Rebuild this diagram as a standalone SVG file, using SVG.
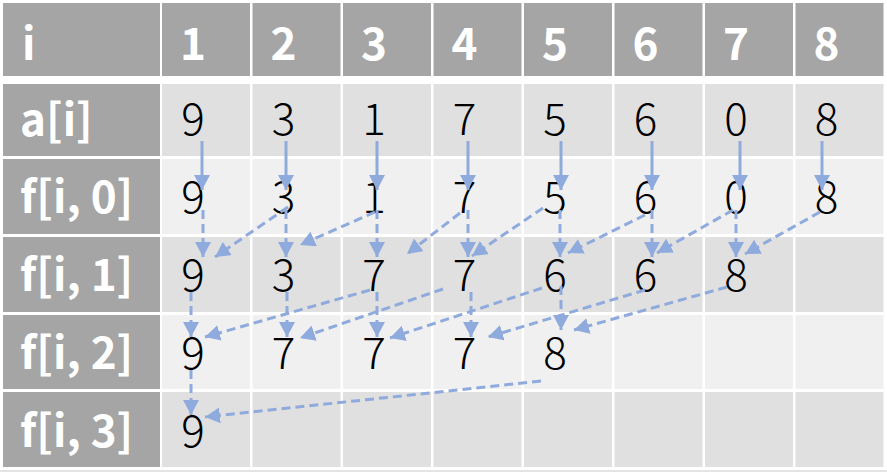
<svg xmlns="http://www.w3.org/2000/svg" width="887" height="472" viewBox="0 0 887 472">
<style>
.h{fill:#a5a5a5}
.c1{fill:#e0e0e0}
.c2{fill:#f0f0f0}
text{font-family:"Noto Sans CJK SC","Liberation Sans",sans-serif;font-size:44px}
.ht{fill:#fff;font-weight:700;text-anchor:middle}
.it{fill:#fff;font-weight:700}
.lt{fill:#fff;font-weight:700}
.bt{fill:#000;font-weight:300;text-anchor:middle}
.sa{stroke:#8faadc;stroke-width:3;fill:none;marker-end:url(#ah)}
.da{stroke:#8faadc;stroke-width:3;fill:none;stroke-dasharray:9 5;marker-end:url(#ah)}
</style>
<defs>
<marker id="ah" markerUnits="userSpaceOnUse" markerWidth="15" markerHeight="16" viewBox="0 0 15 16" refX="15" refY="8" orient="auto">
<path d="M0,0 L15,8 L0,16 z" fill="#8faadc"/>
</marker>
</defs>
<rect width="887" height="472" fill="#fff"/>
<rect x="0" y="470" width="887" height="2" fill="#e4e4e4"/>
<!-- header row -->
<g id="h0"><rect class="h" x="3" y="3" width="157" height="73"/><text class="it" x="22" y="60">i</text></g>
<g id="h1"><rect class="h" x="162" y="3" width="88" height="73"/><text class="ht" x="193" y="60">1</text></g>
<g id="h2"><rect class="h" x="252.5" y="3" width="88" height="73"/><text class="ht" x="283.5" y="60">2</text></g>
<g id="h3"><rect class="h" x="343" y="3" width="88" height="73"/><text class="ht" x="374" y="60">3</text></g>
<g id="h4"><rect class="h" x="433.5" y="3" width="88" height="73"/><text class="ht" x="464.5" y="60">4</text></g>
<g id="h5"><rect class="h" x="524" y="3" width="88" height="73"/><text class="ht" x="555" y="60">5</text></g>
<g id="h6"><rect class="h" x="614.5" y="3" width="88" height="73"/><text class="ht" x="645.5" y="60">6</text></g>
<g id="h7"><rect class="h" x="705" y="3" width="88" height="73"/><text class="ht" x="736" y="60">7</text></g>
<g id="h8"><rect class="h" x="795.5" y="3" width="88" height="73"/><text class="ht" x="826.5" y="60">8</text></g>
<!-- a[i] row -->
<g id="a0"><rect class="h" x="3" y="84" width="157" height="72"/><text class="lt" x="20" y="136">a[i]</text></g>
<g id="a1"><rect class="c1" x="162" y="84" width="88" height="72"/><text class="bt" x="193" y="135">9</text></g>
<g id="a2"><rect class="c1" x="252.5" y="84" width="88" height="72"/><text class="bt" x="283.5" y="135">3</text></g>
<g id="a3"><rect class="c1" x="343" y="84" width="88" height="72"/><text class="bt" x="374" y="135">1</text></g>
<g id="a4"><rect class="c1" x="433.5" y="84" width="88" height="72"/><text class="bt" x="464.5" y="135">7</text></g>
<g id="a5"><rect class="c1" x="524" y="84" width="88" height="72"/><text class="bt" x="555" y="135">5</text></g>
<g id="a6"><rect class="c1" x="614.5" y="84" width="88" height="72"/><text class="bt" x="645.5" y="135">6</text></g>
<g id="a7"><rect class="c1" x="705" y="84" width="88" height="72"/><text class="bt" x="736" y="135">0</text></g>
<g id="a8"><rect class="c1" x="795.5" y="84" width="88" height="72"/><text class="bt" x="826.5" y="135">8</text></g>
<!-- f[i,0] row -->
<g id="f0_0"><rect class="h" x="3" y="159" width="157" height="75"/><text class="lt" x="20" y="213">f[i, 0]</text></g>
<g id="f0_1"><rect class="c2" x="162" y="159" width="88" height="75"/><text class="bt" x="193" y="213">9</text></g>
<g id="f0_2"><rect class="c2" x="252.5" y="159" width="88" height="75"/><text class="bt" x="283.5" y="213">3</text></g>
<g id="f0_3"><rect class="c2" x="343" y="159" width="88" height="75"/><text class="bt" x="374" y="213">1</text></g>
<g id="f0_4"><rect class="c2" x="433.5" y="159" width="88" height="75"/><text class="bt" x="464.5" y="213">7</text></g>
<g id="f0_5"><rect class="c2" x="524" y="159" width="88" height="75"/><text class="bt" x="555" y="213">5</text></g>
<g id="f0_6"><rect class="c2" x="614.5" y="159" width="88" height="75"/><text class="bt" x="645.5" y="213">6</text></g>
<g id="f0_7"><rect class="c2" x="705" y="159" width="88" height="75"/><text class="bt" x="736" y="213">0</text></g>
<g id="f0_8"><rect class="c2" x="795.5" y="159" width="88" height="75"/><text class="bt" x="826.5" y="213">8</text></g>
<!-- f[i,1] row -->
<g id="f1_0"><rect class="h" x="3" y="237" width="157" height="75"/><text class="lt" x="20" y="291">f[i, 1]</text></g>
<g id="f1_1"><rect class="c1" x="162" y="237" width="88" height="75"/><text class="bt" x="193" y="291">9</text></g>
<g id="f1_2"><rect class="c1" x="252.5" y="237" width="88" height="75"/><text class="bt" x="283.5" y="291">3</text></g>
<g id="f1_3"><rect class="c1" x="343" y="237" width="88" height="75"/><text class="bt" x="374" y="291">7</text></g>
<g id="f1_4"><rect class="c1" x="433.5" y="237" width="88" height="75"/><text class="bt" x="464.5" y="291">7</text></g>
<g id="f1_5"><rect class="c1" x="524" y="237" width="88" height="75"/><text class="bt" x="555" y="291">6</text></g>
<g id="f1_6"><rect class="c1" x="614.5" y="237" width="88" height="75"/><text class="bt" x="645.5" y="291">6</text></g>
<g id="f1_7"><rect class="c1" x="705" y="237" width="88" height="75"/><text class="bt" x="736" y="291">8</text></g>
<g id="f1_8"><rect class="c1" x="795.5" y="237" width="88" height="75"/></g>
<!-- f[i,2] row -->
<g id="f2_0"><rect class="h" x="3" y="315" width="157" height="74"/><text class="lt" x="20" y="369">f[i, 2]</text></g>
<g id="f2_1"><rect class="c2" x="162" y="315" width="88" height="74"/><text class="bt" x="193" y="369">9</text></g>
<g id="f2_2"><rect class="c2" x="252.5" y="315" width="88" height="74"/><text class="bt" x="283.5" y="369">7</text></g>
<g id="f2_3"><rect class="c2" x="343" y="315" width="88" height="74"/><text class="bt" x="374" y="369">7</text></g>
<g id="f2_4"><rect class="c2" x="433.5" y="315" width="88" height="74"/><text class="bt" x="464.5" y="369">7</text></g>
<g id="f2_5"><rect class="c2" x="524" y="315" width="88" height="74"/><text class="bt" x="555" y="369">8</text></g>
<g id="f2_6"><rect class="c2" x="614.5" y="315" width="88" height="74"/></g>
<g id="f2_7"><rect class="c2" x="705" y="315" width="88" height="74"/></g>
<g id="f2_8"><rect class="c2" x="795.5" y="315" width="88" height="74"/></g>
<!-- f[i,3] row -->
<g id="f3_0"><rect class="h" x="3" y="392" width="157" height="75"/><text class="lt" x="20" y="447">f[i, 3]</text></g>
<g id="f3_1"><rect class="c1" x="162" y="392" width="88" height="75"/><text class="bt" x="193" y="447">9</text></g>
<g id="f3_2"><rect class="c1" x="252.5" y="392" width="88" height="75"/></g>
<g id="f3_3"><rect class="c1" x="343" y="392" width="88" height="75"/></g>
<g id="f3_4"><rect class="c1" x="433.5" y="392" width="88" height="75"/></g>
<g id="f3_5"><rect class="c1" x="524" y="392" width="88" height="75"/></g>
<g id="f3_6"><rect class="c1" x="614.5" y="392" width="88" height="75"/></g>
<g id="f3_7"><rect class="c1" x="705" y="392" width="88" height="75"/></g>
<g id="f3_8"><rect class="c1" x="795.5" y="392" width="88" height="75"/></g>
<!-- connectors -->
<g id="connectors">
<line class="sa" x1="202" y1="141" x2="202" y2="190"/>
<line class="sa" x1="286" y1="141" x2="286" y2="190"/>
<line class="sa" x1="377" y1="141" x2="377" y2="190"/>
<line class="sa" x1="468" y1="141" x2="468" y2="190"/>
<line class="sa" x1="561" y1="141" x2="561" y2="190"/>
<line class="sa" x1="652" y1="141" x2="652" y2="190"/>
<line class="sa" x1="740" y1="141" x2="740" y2="190"/>
<line class="sa" x1="822" y1="141" x2="822" y2="190"/>
<line class="da" x1="203" y1="210" x2="203" y2="257"/>
<line class="da" x1="286" y1="210" x2="286" y2="257"/>
<line class="da" x1="377" y1="210" x2="377" y2="257"/>
<line class="da" x1="468" y1="210" x2="468" y2="257"/>
<line class="da" x1="560" y1="210" x2="560" y2="257"/>
<line class="da" x1="652" y1="210" x2="652" y2="257"/>
<line class="da" x1="736" y1="210" x2="736" y2="257"/>
<line class="da" x1="288" y1="207" x2="215" y2="257"/>
<line class="da" x1="375" y1="212" x2="300" y2="245"/>
<line class="da" x1="460" y1="213" x2="407" y2="254"/>
<line class="da" x1="543" y1="208" x2="472" y2="256"/>
<line class="da" x1="645" y1="215" x2="568" y2="253"/>
<line class="da" x1="733" y1="210" x2="657" y2="253"/>
<line class="da" x1="820" y1="212" x2="745" y2="254"/>
<line class="da" x1="191" y1="292" x2="191" y2="337"/>
<line class="da" x1="287" y1="292" x2="287" y2="337"/>
<line class="da" x1="377" y1="292" x2="377" y2="337"/>
<line class="da" x1="471" y1="292" x2="471" y2="337"/>
<line class="da" x1="561" y1="286" x2="561" y2="330"/>
<line class="da" x1="370" y1="290" x2="205" y2="337"/>
<line class="da" x1="443" y1="289" x2="300" y2="338"/>
<line class="da" x1="542" y1="288" x2="390" y2="338"/>
<line class="da" x1="645" y1="290" x2="488" y2="337"/>
<line class="da" x1="727" y1="287" x2="574" y2="330"/>
<line class="da" x1="191" y1="370" x2="191" y2="415"/>
<line class="da" x1="541" y1="381" x2="205" y2="417"/>
</g>
</svg>
